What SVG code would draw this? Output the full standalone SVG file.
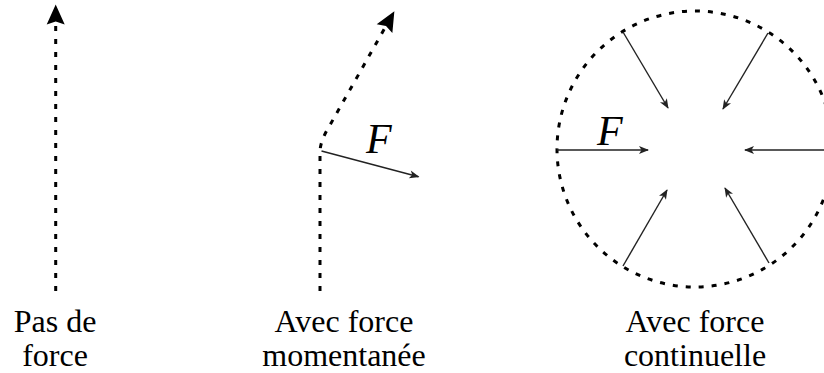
<svg xmlns="http://www.w3.org/2000/svg" width="824" height="373" viewBox="0 0 824 373">
  <style>
    text { font-family: 'Liberation Serif', 'Times New Roman', Times, 'DejaVu Serif', serif; }
    .traj { fill: none; stroke: #000; stroke-width: 3; stroke-dasharray: 5 8; }
    .force { fill: none; stroke: #222; stroke-width: 1.4; }
    .lbl { font-size: 32px; fill: #000; text-anchor: middle; }
    .sym { font-size: 42px; font-style: italic; fill: #000; }
  </style>
  <defs>
    <marker id="bigHead" markerUnits="userSpaceOnUse" markerWidth="22" markerHeight="20" refX="3" refY="9" orient="auto" overflow="visible">
      <path d="M0,0 L20,9 L0,18 L3,9 Z" fill="#000"/>
    </marker>
    <marker id="thinHead" markerUnits="userSpaceOnUse" markerWidth="12" markerHeight="10" refX="9" refY="4" orient="auto" overflow="visible">
      <path d="M0,0 L10,4 L0,8 L2.5,4 Z" fill="#222"/>
    </marker>
  </defs>
  <rect width="824" height="373" fill="#fff"/>

  <g id="no-force">
    <text class="lbl" x="55" y="332">Pas de</text>
    <text class="lbl" x="55" y="366">force</text>
  </g>

  <g id="momentary-force">
    <text class="sym" x="366" y="153">F</text>
    <text class="lbl" x="344" y="332">Avec force</text>
    <text class="lbl" x="344" y="366">momentanée</text>
  </g>

  <g id="continuous-force">
    <circle cx="695" cy="149" r="138" class="traj" stroke-dasharray="5 7.7"/>
    <text class="sym" x="597" y="145">F</text>
    <text class="lbl" x="695" y="332">Avec force</text>
    <text class="lbl" x="695" y="366">continuelle</text>
  </g>

  <g id="connectors">
    <path class="traj" d="M55.7,291 V21.5" marker-end="url(#bigHead)"/>
    <path class="traj" d="M320,291 V152 Q320,141 330,125 L386,26" marker-end="url(#bigHead)"/>
    <path class="force" d="M321.5,151 L418.5,176.7" marker-end="url(#thinHead)"/>
    <path class="force" d="M557,150 L648,150" marker-end="url(#thinHead)"/>
    <path class="force" d="M832,150 L745,150" marker-end="url(#thinHead)"/>
    <path class="force" d="M623,32 L668,108" marker-end="url(#thinHead)"/>
    <path class="force" d="M768,33 L723,109" marker-end="url(#thinHead)"/>
    <path class="force" d="M623,266 L667,190" marker-end="url(#thinHead)"/>
    <path class="force" d="M769,263 L725,188" marker-end="url(#thinHead)"/>
  </g>
</svg>
